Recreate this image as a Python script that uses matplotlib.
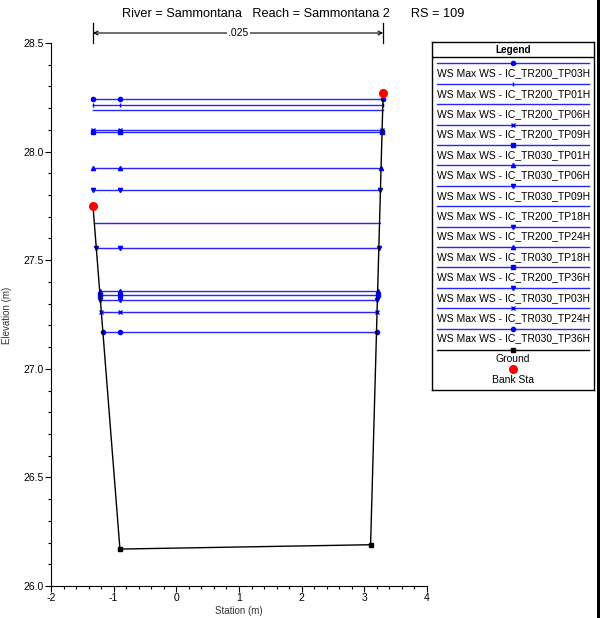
import numpy as np
import matplotlib
matplotlib.use('Agg')
import matplotlib.pyplot as plt
import matplotlib.transforms as mtransforms
from matplotlib.lines import Line2D
from matplotlib.patches import Rectangle

plt.rcParams['font.family'] = ['Liberation Sans', 'DejaVu Sans']
plt.rcParams['axes.unicode_minus'] = False

# cross section geometry
ground_sta = [-1.33, -0.90, 3.10, 3.30]
ground_elev = [27.75, 26.17, 26.19, 28.27]
bank_sta = [-1.33, 3.30]
bank_elev = [27.75, 28.27]
n_value = '.025'

# max water surfaces, in legend order
ws_names = ['IC_TR200_TP03H', 'IC_TR200_TP01H', 'IC_TR200_TP06H', 'IC_TR200_TP09H',
            'IC_TR030_TP01H', 'IC_TR030_TP06H', 'IC_TR030_TP09H', 'IC_TR200_TP18H',
            'IC_TR200_TP24H', 'IC_TR030_TP18H', 'IC_TR200_TP36H', 'IC_TR030_TP03H',
            'IC_TR030_TP24H', 'IC_TR030_TP36H']
ws_elev = [28.244, 28.215, 28.192, 28.099, 28.089, 27.926, 27.822, 27.672,
           27.556, 27.360, 27.340, 27.318, 27.263, 27.171]
ws_markers = ['o', '|', '', 'x', 's', '^', 'v', '', 'v', '^', 's', 'v', 'x', 'o']

blue = '#0000ff'

fig = plt.figure(figsize=(6.05, 6.18), dpi=100)
ax = fig.add_axes([51/605, 1-586/618, 376/605, 543/618])

# water surface lines, clipped to the ground on both sides
for elev, mk in zip(ws_elev, ws_markers):
    xl = np.interp(elev, ground_elev[1::-1], ground_sta[1::-1])
    xr = np.interp(elev, ground_elev[2:], ground_sta[2:])
    ax.plot([xl, xr], [elev, elev], color=blue, lw=1.0, alpha=0.85, zorder=2)
    if mk:
        ax.plot([xl, ground_sta[1], xr], [elev]*3, ls='none', marker=mk, ms=3,
                mew=1.0, color=blue, zorder=3)

ax.plot(ground_sta, ground_elev, color='black', lw=1.0, zorder=4)
ax.plot(ground_sta[1:3], ground_elev[1:3], ls='none', marker='s', ms=3.2,
        color='black', zorder=5)
ax.plot(bank_sta, bank_elev, ls='none', marker='o', ms=5.5, color='red', zorder=6)

ax.set_xlim(-2, 4)
ax.set_ylim(26.0, 28.5)
ax.set_xticks(range(-2, 5))
ax.set_xticks(np.arange(-2, 4.01, 0.2), minor=True)
ax.set_yticks([26.0, 26.5, 27.0, 27.5, 28.0, 28.5])
ax.set_yticks(np.arange(26.0, 28.51, 0.1), minor=True)
ax.set_yticklabels(['26.0', '26.5', '27.0', '27.5', '28.0', '28.5'])
ax.spines['top'].set_visible(False)
ax.spines['right'].set_visible(False)
ax.tick_params(which='major', length=4, width=0.8, labelsize=7.5, pad=1)
ax.tick_params(which='minor', length=2.5, width=0.8)
ax.set_facecolor('none')

fig.text(7/605, 1-315/618, 'Elevation (m)', rotation=90, fontsize=7, color='#333333',
         ha='center', va='center')
fig.text(239/605, 1-611/618, 'Station (m)', fontsize=7, color='#333333',
         ha='center', va='center')

fig.text(293/605, 1-14/618, 'River = Sammontana   Reach = Sammontana 2      RS = 109',
         fontsize=9.2, ha='center', va='center')

# n value annotation between bank stations
trans = mtransforms.blended_transform_factory(ax.transData, fig.transFigure)
ya = 1-33/618
for s in bank_sta:
    ax.add_line(Line2D([s, s], [1-23/618, 1-43/618], transform=trans, color='black',
                       lw=0.9, clip_on=False))
ax.annotate('', xy=(bank_sta[0], ya), xytext=(bank_sta[1], ya), xycoords=trans,
            textcoords=trans, arrowprops=dict(arrowstyle='<->', lw=0.8, color='black',
                                               shrinkA=0, shrinkB=0, mutation_scale=7))
ax.text(np.mean(bank_sta), ya, n_value, transform=trans, fontsize=7.5, ha='center',
        va='center', bbox=dict(fc='white', ec='none', pad=1))

# custom legend: sample line on top, label underneath
lg = fig.add_axes([432/605, 1-390/618, 162/605, 348/618])
lg.set_xlim(432, 594)
lg.set_ylim(390, 42)
lg.set_xticks([])
lg.set_yticks([])
for sp in lg.spines.values():
    sp.set_linewidth(1.0)
lg.text(513, 50, 'Legend', fontsize=7.2, fontweight='bold', ha='center', va='center')
lg.plot([432, 594], [57, 57], color='black', lw=1.0)
for i, (name, mk) in enumerate(zip(ws_names, ws_markers)):
    yl = 63.3 + i*20.4
    lg.plot([437, 589], [yl, yl], color=blue, lw=1.0, alpha=0.85)
    if mk:
        lg.plot([513], [yl], marker=mk, ms=3, mew=1.0, color=blue)
    lg.text(437, yl+10, 'WS Max WS - ' + name, fontsize=7.5, ha='left', va='center')
lg.plot([437, 589], [350, 350], color='black', lw=1.0)
lg.plot([513], [350], marker='s', ms=3.2, color='black')
lg.text(513, 358.5, 'Ground', fontsize=7.5, ha='center', va='center')
lg.plot([513], [369], marker='o', ms=5.5, color='red')
lg.text(513, 380, 'Bank Sta', fontsize=7.5, ha='center', va='center')

# window frame edge on the right
fig.add_artist(Rectangle((597/605, 0), 3/605, 1, transform=fig.transFigure,
                         color='black', lw=0))

fig.savefig('out.png', dpi=100)
